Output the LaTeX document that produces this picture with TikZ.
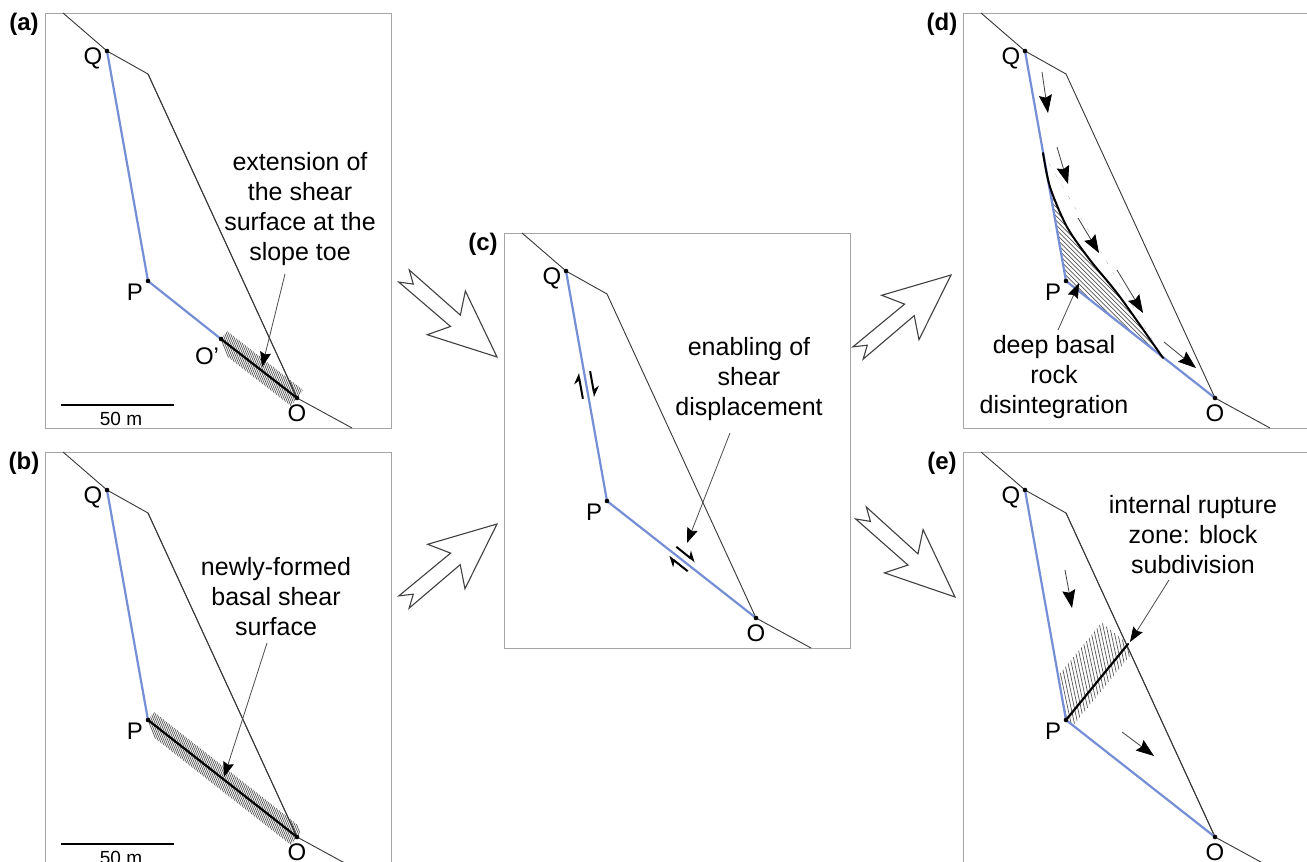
\documentclass[tikz,border=0pt]{standalone}
\usepackage{fontspec}
\setmainfont{Liberation Sans}
\usetikzlibrary{arrows.meta,calc}
\definecolor{surfblue}{RGB}{118,142,214}
\definecolor{framegray}{RGB}{165,165,165}
\definecolor{slopegray}{RGB}{55,55,55}
\definecolor{hatchgray}{RGB}{85,85,85}
\tikzset{
  framebox/.style={draw=framegray, line width=1pt},
  slope/.style={draw=slopegray, line width=0.9pt, line join=round},
  surf/.style={draw=surfblue, line width=2.2pt, line cap=round, line join=round},
  shear/.style={draw=black, line width=2.2pt, line cap=round},
  hatchline/.style={draw=hatchgray, line width=0.7pt},
  ptl/.style={font=\fontsize{24}{24}\selectfont, inner sep=0pt},
  panellabel/.style={font=\fontsize{24}{24}\selectfont\bfseries, inner sep=0pt},
  note/.style={font=\fontsize{25}{30}\selectfont, align=center, inner sep=0pt},
  leader/.style={draw=black!70, line width=0.8pt, -{Stealth[length=15pt,width=11pt,inset=2pt,color=black]}},
  motion/.style={draw=black!75, line width=0.8pt, -{Stealth[length=18pt,width=13pt,inset=2.5pt,color=black]}},
  harp/.style={draw=black, line width=2pt, -{Stealth[left,length=9pt,width=12pt,color=black]}},
  hollow/.style={draw=black!75, line width=1.1pt, fill=white, line join=miter},
  scalebar/.style={draw=black, line width=2.8pt},
  scaletext/.style={font=\fontsize{19}{19}\selectfont, inner sep=0pt},
}

% frame, slope profile and points Q, K (crest knee), P, O of one panel
\newcommand\panelbase[4]{%
  \begin{scope}[shift={(#2,#3)}]
    \draw[framebox] (45,13) rectangle (391,428);
    \coordinate (#1T) at (63,13);
    \coordinate (#1Q) at (107,51);
    \coordinate (#1K) at (148,74);
    \coordinate (#1P) at (148,281);
    \coordinate (#1O) at (297,398);
    \coordinate (#1B) at (352,428);
    \draw[slope] (#1T) -- (#1Q) -- (#1K) -- (#1O) -- (#1B);
    \node[panellabel] (#1lab) at (24,24) {(#4)};
  \end{scope}}

% black dot with its letter
\newcommand\markpt[4]{%
  \fill (#1) circle (2.3pt);
  \node[ptl] (#2) at ($(#1)+#4$) {#3};}

% hatched band along a shear segment
\newcommand\hatchband[3]{%
  \begin{scope}
    \clip ($(#1)!10pt!90:(#2)$) -- ($(#2)!10pt!-90:(#1)$) --
          ($(#2)!10pt!90:(#1)$) -- ($(#1)!10pt!-90:(#2)$) -- cycle;
    \foreach \d in {0,3.6,...,200}
      \draw[hatchline] ($(#1)!\d pt!(#2)$) ++(#3:-25pt) -- ++(#3:50pt);
  \end{scope}}

% hollow swallow-tailed transition arrow
\newcommand\bigarrow[2]{%
  \draw[hollow] (#2)
    -- ($(#1)!0.455!(#2)!29pt!90:(#2)$)
    -- ($(#1)!0.553!(#2)!7.5pt!90:(#2)$)
    -- ($(#1)!8pt!90:(#2)$)
    -- ($(#1)!0.1!(#2)$)
    -- ($(#1)!8pt!-90:(#2)$)
    -- ($(#1)!0.553!(#2)!7.5pt!-90:(#2)$)
    -- ($(#1)!0.455!(#2)!29pt!-90:(#2)$)
    -- cycle;}

\begin{document}
\begin{tikzpicture}[x=1pt,y=-1pt]
\useasboundingbox (0,0) rectangle (1307,862);
\clip (0,0) rectangle (1307,862);
\fill[white] (0,0) rectangle (1307,862);

% ---------------- panel (a)
\panelbase{a}{0}{0}{a}
\coordinate (aOp) at (221,339);
\hatchband{aOp}{aO}{-68}
\draw[slope] (aK) -- (aO);
\draw[surf] (aQ) -- (aP) -- (aOp);
\draw[shear] (aOp) -- (aO);
\markpt{aQ}{aQt}{Q}{(-14,7)}
\markpt{aP}{aPt}{P}{(-13,11)}
\markpt{aOp}{aOpt}{O'}{(-14,17)}
\markpt{aO}{aOt}{O}{(0,15)}
\node[note] (anote) at (300,209) {extension of\\the shear\\surface at the\\slope toe};
\coordinate (aL1) at (285,274);
\coordinate (aL2) at (262,367);
\draw[leader] (aL1) -- (aL2);
\coordinate (aS1) at (61,405);
\coordinate (aS2) at (174,405);
\draw[scalebar] (aS1) -- (aS2);
\node[scaletext] (ascale) at (121,419) {50 m};

% ---------------- panel (b)
\panelbase{b}{0}{439}{b}
\hatchband{bP}{bO}{-68}
\draw[slope] (bK) -- (bO);
\draw[surf] (bQ) -- (bP);
\draw[shear] (bP) -- (bO);
\markpt{bQ}{bQt}{Q}{(-14,7)}
\markpt{bP}{bPt}{P}{(-13,11)}
\markpt{bO}{bOt}{O}{(0,15)}
\node[note] (bnote) at (276,597) {newly-formed\\basal shear\\surface};
\coordinate (bL1) at (267,643);
\coordinate (bL2) at (224,777);
\draw[leader] (bL1) -- (bL2);
\coordinate (bS1) at (61,844);
\coordinate (bS2) at (174,844);
\draw[scalebar] (bS1) -- (bS2);
\node[scaletext] (bscale) at (121,858) {50 m};

% ---------------- panel (c)
\panelbase{c}{459}{220}{c}
\draw[surf] (cQ) -- (cP) -- (cO);
\markpt{cQ}{cQt}{Q}{(-14,7)}
\markpt{cP}{cPt}{P}{(-13,11)}
\markpt{cO}{cOt}{O}{(0,15)}
\coordinate (cH1a) at (582.9,398.8); \coordinate (cH1b) at (578.3,373.2);
\coordinate (cH2a) at (590.1,371.2); \coordinate (cH2b) at (594.7,396.8);
\coordinate (cH3a) at (676.3,546.8); \coordinate (cH3b) at (695.1,561.8);
\coordinate (cH4a) at (687.7,571.2); \coordinate (cH4b) at (668.9,556.3);
\draw[harp] (cH1a) -- (cH1b);
\draw[harp] (cH2a) -- (cH2b);
\draw[harp] (cH3a) -- (cH3b);
\draw[harp] (cH4a) -- (cH4b);
\node[note] (cnote) at (749,379) {enabling of\\shear\\displacement};
\coordinate (cL1) at (730,433);
\coordinate (cL2) at (687,543);
\draw[leader] (cL1) -- (cL2);

% ---------------- panel (d)
\panelbase{d}{918}{0}{d}
\coordinate (dC1) at (1043,153);
\coordinate (dC2) at (1163,358);
\begin{scope}
  \clip (dC1) -- (dP) -- (dC2)
    plot[smooth] coordinates {(1163,358) (1120,297) (1090,260) (1067,227) (1050,187) (1043,153)} -- cycle;
  \foreach \x in {780,784.5,...,1200}
    \draw[hatchline] (\x,120) -- ++(260,260);
\end{scope}
\draw[surf] (dQ) -- (dP) -- (dO);
\draw[black, line width=2pt, line cap=round]
  plot[smooth] coordinates {(1043,153) (1050,187) (1067,227) (1090,260) (1120,297) (1163,358)};
\markpt{dQ}{dQt}{Q}{(-14,7)}
\markpt{dP}{dPt}{P}{(-13,11)}
\markpt{dO}{dOt}{O}{(0,15)}
\coordinate (dM1a) at (1042,72);  \coordinate (dM1b) at (1048,113);
\coordinate (dM2a) at (1057,147); \coordinate (dM2b) at (1068,184);
\coordinate (dM3a) at (1078,218); \coordinate (dM3b) at (1099,253);
\coordinate (dM4a) at (1117,270); \coordinate (dM4b) at (1143,313);
\coordinate (dM5a) at (1164,342); \coordinate (dM5b) at (1196,368);
\draw[motion] (dM1a) -- (dM1b);
\draw[motion] (dM2a) -- (dM2b);
\draw[motion] (dM3a) -- (dM3b);
\draw[motion] (dM4a) -- (dM4b);
\draw[motion] (dM5a) -- (dM5b);
\node[note] (dnote) at (1054,377) {deep basal\\rock\\disintegration};
\coordinate (dL1) at (1058,330);
\coordinate (dL2) at (1079,283);
\draw[leader] (dL1) -- (dL2);

% ---------------- panel (e)
\panelbase{e}{918}{439}{e}
\coordinate (eE) at (1128,644);
\begin{scope}
  \clip (eQ) -- (eK) -- (eO) -- (eP) -- cycle;
  \clip ($(eP)!34pt!90:(eE)$) -- ($(eE)!34pt!-90:(eP)$) --
        ($(eE)!9pt!90:(eP)$) -- ($(eP)!9pt!-90:(eE)$) -- cycle;
  \foreach \x in {960,963.3,...,1160}
    \draw[hatchline] (\x,590) -- ++(30,140);
\end{scope}
\draw[slope] (eK) -- (eO);
\draw[surf] (eQ) -- (eP) -- (eO);
\draw[shear] (eP) -- (eE);
\markpt{eQ}{eQt}{Q}{(-14,7)}
\markpt{eP}{ePt}{P}{(-13,11)}
\markpt{eO}{eOt}{O}{(0,15)}
\coordinate (eM1a) at (1065,570); \coordinate (eM1b) at (1072,608);
\coordinate (eM2a) at (1122,732); \coordinate (eM2b) at (1154,756);
\draw[motion] (eM1a) -- (eM1b);
\draw[motion] (eM2a) -- (eM2b);
\node[note] (enote) at (1193,535) {internal rupture\\zone: block\\subdivision};
\coordinate (eL1) at (1169,580);
\coordinate (eL2) at (1130,642);
\draw[leader] (eL1) -- (eL2);

% ---------------- transition arrows
\coordinate (t1) at (404,276); \coordinate (h1) at (497,357);
\coordinate (t2) at (404,602); \coordinate (h2) at (497,524);
\coordinate (t3) at (858,353); \coordinate (h3) at (951,275);
\coordinate (t4) at (861,513); \coordinate (h4) at (955,597);
\bigarrow{t1}{h1}
\bigarrow{t2}{h2}
\bigarrow{t3}{h3}
\bigarrow{t4}{h4}
\end{tikzpicture}
\end{document}
